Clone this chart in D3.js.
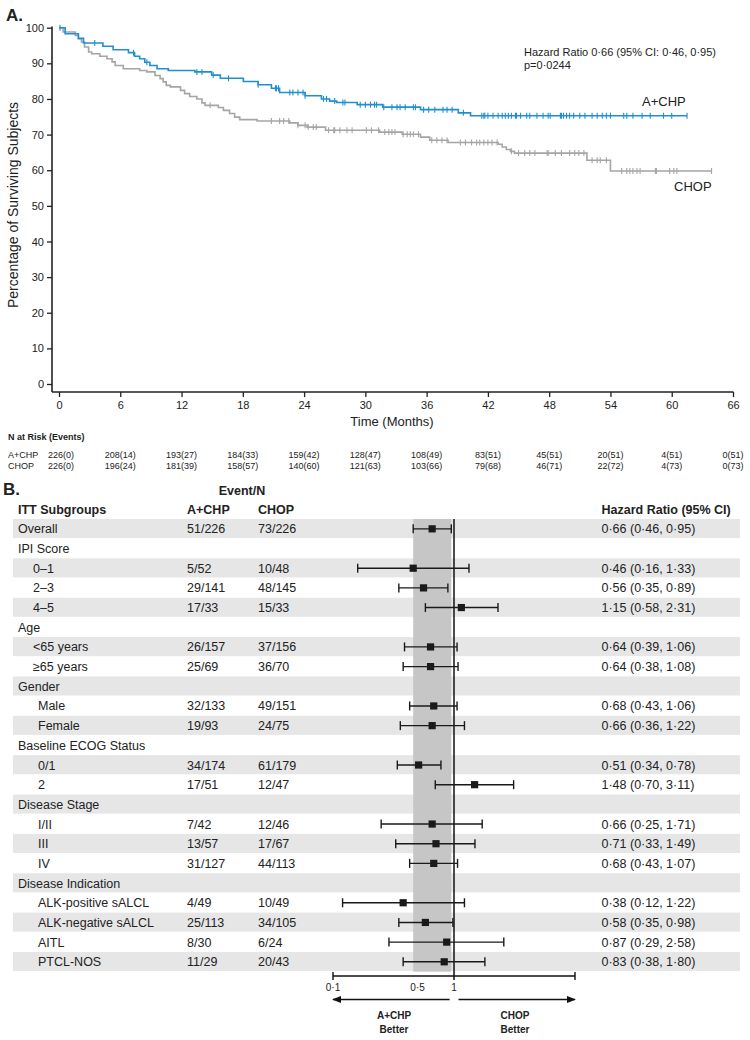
<!DOCTYPE html>
<html><head><meta charset="utf-8">
<script src="https://cdn.jsdelivr.net/npm/d3@7"></script>
<style>body{margin:0;background:#fff} svg{display:block;font-family:Arial,"Liberation Sans",sans-serif}</style>
</head><body><svg id="c" width="750" height="1040"></svg>
<script>
// ---------- Panel A data ----------
const achpTimes = [0,0.6,1.9,2.4,4.3,5.3,6.8,7.4,7.9,8.4,8.9,9.6,10.7,13.3,14.95,15.8,18.05,19.5,20.8,21.6,24.1,25.7,26.5,27.2,29.2,31.7,35.4,39.1,40.3];
const achpSurv  = [100,98.3,97.0,95.7,94.8,93.8,93.0,92.0,91.3,90.3,89.4,88.5,88.0,87.6,86.7,85.8,84.9,84.0,83.0,81.8,80.9,80.0,79.4,79.0,78.4,77.7,77.0,76.1,75.3];
const achpEnd = 61.5;
const achpCensor = [0.1,3.5,7.3,8.6,13.5,14.0,15.1,16.6,19.5,21.2,21.3,21.5,22.6,22.9,23.4,23.9,24.1,25.9,26.2,27.0,27.8,28.0,29.5,30.0,30.5,30.9,31.1,31.8,32.6,33.1,33.4,33.9,34.7,34.9,35.7,36.2,36.8,37.6,38.0,38.5,39.6,41.4,41.6,41.7,42.0,42.5,43.0,43.4,43.7,44.0,44.3,44.7,44.8,45.2,45.8,46.1,46.8,47.4,47.9,48.1,49.1,49.2,49.4,49.7,50.0,50.4,51.0,51.5,52.2,52.7,53.2,53.6,54.0,55.3,55.6,56.2,57.1,57.9,59.2,60.0,61.5];

const chopTimes = [0,0.4,1.6,1.9,2.2,2.5,2.9,3.2,4.0,4.7,5.2,5.5,6.3,7.9,8.6,9.4,9.9,10.2,10.5,10.9,11.9,12.3,12.8,13.5,14.0,14.3,15.6,16.1,16.7,17.2,17.7,19.4,22.6,23.4,24.3,26.1,31.4,33.6,35.4,36.3,38.1,43.0,43.4,43.8,44.2,44.6,51.7,54.0];
const chopSurv  = [100,98.8,97.8,96.9,96.0,94.6,93.2,92.7,92.0,91.3,90.4,89.4,88.5,88.0,87.6,86.6,85.7,84.8,83.8,83.4,82.4,81.5,80.7,80.0,78.9,78.2,77.6,76.8,75.9,74.9,74.2,73.8,73.3,72.6,72.1,71.2,70.7,70.1,69.3,68.4,67.8,67.3,66.5,65.8,65.3,64.8,62.8,59.8];
const chopEnd = 63.9;
const chopCensor = [14.8,20.8,21.6,22.0,22.5,23.4,24.1,24.4,24.9,25.2,26.4,26.9,27.0,27.5,28.2,28.7,30.1,30.6,31.3,31.9,32.3,32.6,32.9,33.7,34.1,34.4,34.7,35.2,36.5,37.0,37.5,38.0,39.3,39.8,40.4,40.9,41.2,41.6,42.0,42.4,42.9,44.3,45.0,45.6,46.1,46.6,47.8,47.9,48.6,49.2,50.0,50.5,50.9,51.4,52.2,52.7,53.0,53.6,55.1,55.6,55.9,56.2,56.6,56.9,58.4,58.5,59.8,60.2,60.5,63.9];

const xTicks = [0,6,12,18,24,30,36,42,48,54,60,66];
const yTicks = [0,10,20,30,40,50,60,70,80,90,100];
const riskACHP = [226,208,193,184,159,128,108,83,45,20,4,0];
const eventsACHPcum = [0,14,27,33,42,47,49,51,51,51,51,51];
const riskCHOP = [226,196,181,158,140,121,103,79,46,22,4,0];
const eventsCHOPcum = [0,24,39,57,60,63,66,68,71,72,73,73];

// ---------- Panel B data ----------
const subgroups = ["Overall","IPI Score","0–1","2–3","4–5","Age","<65 years","≥65 years","Gender","Male","Female","Baseline ECOG Status","0/1","2","Disease Stage","I/II","III","IV","Disease Indication","ALK-positive sALCL","ALK-negative sALCL","AITL","PTCL-NOS"];
const subgroupLevel = [0,0,1,1,1,0,1,1,0,2,2,0,2,2,0,2,2,2,0,2,2,2,2];
const eventsACHP = ["51/226","","5/52","29/141","17/33","","26/157","25/69","","32/133","19/93","","34/174","17/51","","7/42","13/57","31/127","","4/49","25/113","8/30","11/29"];
const eventsCHOP = ["73/226","","10/48","48/145","15/33","","37/156","36/70","","49/151","24/75","","61/179","12/47","","12/46","17/67","44/113","","10/49","34/105","6/24","20/43"];
const hr    = [0.66,null,0.46,0.56,1.15,null,0.64,0.64,null,0.68,0.66,null,0.51,1.48,null,0.66,0.71,0.68,null,0.38,0.58,0.87,0.83];
const ciLow = [0.46,null,0.16,0.35,0.58,null,0.39,0.38,null,0.43,0.36,null,0.34,0.70,null,0.25,0.33,0.43,null,0.12,0.35,0.29,0.38];
const ciHigh= [0.95,null,1.33,0.89,2.31,null,1.06,1.08,null,1.06,1.22,null,0.78,3.11,null,1.71,1.49,1.07,null,1.22,0.98,2.58,1.80];
const forestTicks = [0.1,0.5,1];
const forestDomain = [0.1,10];

// ---------- drawing ----------
const svg = d3.select("#c");
const BLUE = "#1f8fd2", GREY = "#a5a5a5", INK = "#222";
const dot = s => s.replace(/\./g, "\u00b7");

// Panel A
const x = d3.scaleLinear().domain([0,66]).range([59,733]);
const y = d3.scaleLinear().domain([0,100]).range([384,27.7]);

svg.append("text").attr("x",6).attr("y",21).attr("font-size",17).attr("font-weight","bold").attr("fill",INK).text("A.");

const gx = svg.append("g").attr("transform","translate(0,392)")
  .call(d3.axisBottom(x).tickValues(xTicks).tickSize(5).tickSizeOuter(0).tickPadding(4));
gx.select(".domain").remove();
gx.selectAll("text").attr("font-size",11).attr("fill",INK).attr("font-family","Arial, Liberation Sans, sans-serif");
gx.selectAll("line").attr("stroke",INK).attr("stroke-width",1.3);
svg.append("line").attr("x1",52).attr("x2",733.5).attr("y1",392).attr("y2",392).attr("stroke",INK).attr("stroke-width",1.6);

const gy = svg.append("g").attr("transform","translate(52,0)")
  .call(d3.axisLeft(y).tickValues(yTicks).tickSize(5).tickSizeOuter(0).tickPadding(3));
gy.select(".domain").remove();
gy.selectAll("text").attr("font-size",11).attr("fill",INK).attr("font-family","Arial, Liberation Sans, sans-serif");
gy.selectAll("line").attr("stroke",INK).attr("stroke-width",1.3);
svg.append("line").attr("x1",52).attr("x2",52).attr("y1",26.5).attr("y2",392).attr("stroke",INK).attr("stroke-width",1.6);

svg.append("text").attr("transform","translate(18,205) rotate(-90)").attr("text-anchor","middle")
  .attr("font-size",14).attr("fill",INK).text("Percentage of Surviving Subjects");
svg.append("text").attr("x",392).attr("y",426).attr("text-anchor","middle").attr("font-size",13).attr("fill",INK).text("Time (Months)");

function drawKM(times, surv, end, censor, color){
  const pts = times.map((t,i)=>[t,surv[i]]);
  pts.push([end, surv[surv.length-1]]);
  svg.append("path").attr("d", d3.line().x(d=>x(d[0])).y(d=>y(d[1])).curve(d3.curveStepAfter)(pts))
    .attr("fill","none").attr("stroke",color).attr("stroke-width",1.6);
  const g = svg.append("g");
  censor.forEach(c=>{
    const i = Math.max(0, d3.bisectRight(times, c)-1);
    const v = surv[i];
    g.append("line").attr("x1",x(c)).attr("x2",x(c)).attr("y1",y(v)-3).attr("y2",y(v)+3)
      .attr("stroke",color).attr("stroke-width",1.1);
  });
}
drawKM(chopTimes, chopSurv, chopEnd, chopCensor, GREY);
drawKM(achpTimes, achpSurv, achpEnd, achpCensor, BLUE);

svg.append("text").attr("x",524).attr("y",56).attr("font-size",11).attr("fill",INK).text(dot("Hazard Ratio 0.66 (95% CI: 0.46, 0.95)"));
svg.append("text").attr("x",524).attr("y",69).attr("font-size",11).attr("fill",INK).text(dot("p=0.0244"));
svg.append("text").attr("x",642).attr("y",106).attr("font-size",13).attr("fill",INK).text("A+CHP");
svg.append("text").attr("x",674).attr("y",191).attr("font-size",13).attr("fill",INK).text("CHOP");

// risk table
svg.append("text").attr("x",8).attr("y",440).attr("font-size",9).attr("font-weight","bold").attr("fill",INK).text("N at Risk (Events)");
svg.append("text").attr("x",8).attr("y",458).attr("font-size",9).attr("fill",INK).text("A+CHP");
svg.append("text").attr("x",8).attr("y",469).attr("font-size",9).attr("fill",INK).text("CHOP");
xTicks.forEach((t,i)=>{
  svg.append("text").attr("x",x(t)+ (i===0?2:0)).attr("y",458).attr("text-anchor","middle").attr("font-size",9).attr("fill",INK)
    .text(riskACHP[i]+"("+eventsACHPcum[i]+")");
  svg.append("text").attr("x",x(t)+ (i===0?2:0)).attr("y",469).attr("text-anchor","middle").attr("font-size",9).attr("fill",INK)
    .text(riskCHOP[i]+"("+eventsCHOPcum[i]+")");
});

// Panel B
const top0 = 519, rowH = 19.68;
const rowC = i => top0 + rowH*(i+0.5);
const fx = d3.scaleLog().domain(forestDomain).range([333,575]);
const FS = 12.5;

svg.append("text").attr("x",3).attr("y",495).attr("font-size",17).attr("font-weight","bold").attr("fill",INK).text("B.");
svg.append("text").attr("x",242).attr("y",495).attr("text-anchor","middle").attr("font-size",FS).attr("font-weight","bold").attr("fill",INK).text("Event/N");
svg.append("text").attr("x",18).attr("y",514).attr("font-size",FS).attr("font-weight","bold").attr("fill",INK).text("ITT Subgroups");
svg.append("text").attr("x",187).attr("y",514).attr("font-size",FS).attr("font-weight","bold").attr("fill",INK).text("A+CHP");
svg.append("text").attr("x",258).attr("y",514).attr("font-size",FS).attr("font-weight","bold").attr("fill",INK).text("CHOP");
svg.append("text").attr("x",601.5).attr("y",514).attr("font-size",FS).attr("font-weight","bold").attr("fill",INK).text("Hazard Ratio (95% CI)");

subgroups.forEach((s,i)=>{
  if(i%2===0) svg.append("rect").attr("x",13).attr("y",top0+rowH*i).attr("width",727).attr("height",rowH-0.6).attr("fill","#e6e6e7");
});
// overall CI band
svg.append("rect").attr("x",fx(ciLow[0])).attr("y",top0).attr("width",fx(ciHigh[0])-fx(ciLow[0]))
  .attr("height",rowH*subgroups.length).attr("fill","#c6c6c7");
// reference line
svg.append("line").attr("x1",fx(1)).attr("x2",fx(1)).attr("y1",top0).attr("y2",980).attr("stroke","#111").attr("stroke-width",1.5);

const indentX = [18,33,38];
subgroups.forEach((s,i)=>{
  const cy = rowC(i);
  svg.append("text").attr("x",indentX[subgroupLevel[i]]).attr("y",cy).attr("dy","0.36em").attr("font-size",FS).attr("fill",INK).text(s);
  if(eventsACHP[i]) svg.append("text").attr("x",187).attr("y",cy).attr("dy","0.36em").attr("font-size",FS).attr("fill",INK).text(eventsACHP[i]);
  if(eventsCHOP[i]) svg.append("text").attr("x",258).attr("y",cy).attr("dy","0.36em").attr("font-size",FS).attr("fill",INK).text(eventsCHOP[i]);
  if(hr[i]!=null){
    const f = d3.format(".2f");
    svg.append("text").attr("x",601.5).attr("y",cy).attr("dy","0.36em").attr("font-size",FS).attr("fill",INK)
      .text(dot(f(hr[i])+" ("+f(ciLow[i])+", "+f(ciHigh[i])+")"));
    const l = fx(ciLow[i]), h = fx(ciHigh[i]);
    svg.append("line").attr("x1",l).attr("x2",h).attr("y1",cy).attr("y2",cy).attr("stroke","#1a1a1a").attr("stroke-width",1.4);
    [l,h].forEach(px=>svg.append("line").attr("x1",px).attr("x2",px).attr("y1",cy-4.5).attr("y2",cy+4.5).attr("stroke","#1a1a1a").attr("stroke-width",1.4));
    svg.append("rect").attr("x",fx(hr[i])-3.6).attr("y",cy-3.6).attr("width",7.2).attr("height",7.2).attr("fill","#1a1a1a");
  }
});

// forest axis
svg.append("line").attr("x1",fx(forestDomain[0])).attr("x2",fx(forestDomain[1])).attr("y1",976).attr("y2",976).attr("stroke","#111").attr("stroke-width",1.4);
forestDomain.forEach(v=>svg.append("line").attr("x1",fx(v)).attr("x2",fx(v)).attr("y1",972).attr("y2",980).attr("stroke","#111").attr("stroke-width",1.4));
forestTicks.forEach(v=>svg.append("text").attr("x",fx(v)).attr("y",991).attr("text-anchor","middle").attr("font-size",10).attr("fill",INK).text(dot(String(v))));

const defs = svg.append("defs");
defs.append("marker").attr("id","ah").attr("viewBox","0 0 10 10").attr("refX",9).attr("refY",5)
  .attr("markerWidth",7).attr("markerHeight",7).attr("orient","auto-start-reverse")
  .append("path").attr("d","M0,1 L10,5 L0,9 z").attr("fill","#111");
svg.append("line").attr("x1",fx(0.92)).attr("x2",fx(0.1)).attr("y1",999.5).attr("y2",999.5).attr("stroke","#111").attr("stroke-width",1.3).attr("marker-end","url(#ah)");
svg.append("line").attr("x1",fx(1.09)).attr("x2",fx(10)).attr("y1",999.5).attr("y2",999.5).attr("stroke","#111").attr("stroke-width",1.3).attr("marker-end","url(#ah)");
[["A+CHP",394],["CHOP",515]].forEach(([t,cx])=>{
  svg.append("text").attr("x",cx).attr("y",1019).attr("text-anchor","middle").attr("font-size",10).attr("font-weight","bold").attr("fill",INK).text(t);
  svg.append("text").attr("x",cx).attr("y",1033).attr("text-anchor","middle").attr("font-size",10).attr("font-weight","bold").attr("fill",INK).text("Better");
});
</script></body></html>
